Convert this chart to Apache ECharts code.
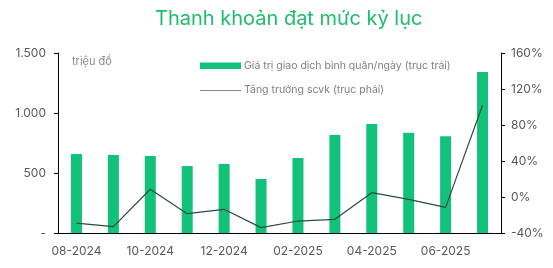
<!DOCTYPE html>
<html><head><meta charset="utf-8">
<script src="https://cdn.jsdelivr.net/npm/echarts@6/dist/echarts.min.js"></script>
<style>html,body{margin:0;padding:0;background:#fff}#c{width:553px;height:268px}</style>
</head><body><div id="c"></div>
<script>
const categories = ['08-2024','09-2024','10-2024','11-2024','12-2024','01-2025','02-2025','03-2025','04-2025','05-2025','06-2025','07-2025'];
const tradingValue = [658, 650, 642, 558, 575, 450, 625, 817, 908, 836, 806, 1342];
const accountGrowth = [-29, -33, 8.6, -18.5, -13.7, -34, -26.7, -24.8, 4.8, -2.6, -11.5, 102];
const leftTicks = [0, 500, 1000, 1500];
const rightTicks = [-40, 0, 40, 80, 120, 160];
const barName = 'Giá trị giao dịch bình quân/ngày (trục trái)';
const lineName = 'Tăng trưởng scvk (trục phải)';

const font = 'Inter, "Noto Sans", sans-serif';
const chart = echarts.init(document.getElementById('c'));
chart.setOption({
  animation: false,
  textStyle: {fontFamily: font},
  title: {
    text: 'Thanh khoản đạt mức kỷ lục',
    left: 150, top: 4,
    textStyle: {color: '#1dbd6e', fontSize: 20, fontWeight: 'normal', fontFamily: font}
  },
  graphic: [
    {type: 'text', left: 72, top: 56,
     style: {text: 'triệu đồ', fill: '#8c8c8c', fontSize: 11, fontFamily: font}},
    {type: 'rect', shape: {x: 200, y: 62.5, width: 41, height: 6.5}, style: {fill: '#13c27a'}},
    {type: 'text', x: 244, y: 66, style: {text: barName, fill: '#808080', fontSize: 10.5, fontFamily: font, verticalAlign: 'middle'}},
    {type: 'line', shape: {x1: 200, y1: 90.5, x2: 241, y2: 90.5}, style: {stroke: '#7f8c8d', lineWidth: 1.2}},
    {type: 'text', x: 244, y: 90, style: {text: lineName, fill: '#808080', fontSize: 10.5, fontFamily: font, verticalAlign: 'middle'}}
  ],
  grid: {left: 58, right: 52, top: 53, bottom: 35},
  xAxis: {
    type: 'category', data: categories,
    axisLine: {lineStyle: {color: '#000', width: 1}},
    axisTick: {show: false},
    axisLabel: {interval: 1, color: '#595959', fontSize: 12, margin: 12, fontFamily: font}
  },
  yAxis: [{
    type: 'value', min: leftTicks[0], max: leftTicks[leftTicks.length-1], interval: 500,
    axisLine: {show: true, lineStyle: {color: '#000'}},
    axisTick: {show: true, length: 4, lineStyle: {color: '#000'}},
    splitLine: {show: false},
    axisLabel: {color: '#595959', fontSize: 12, margin: 12, fontFamily: font,
      formatter: v => v === 0 ? '-' : v.toString().replace(/\B(?=(\d{3})+(?!\d))/g, '.')}
  }, {
    type: 'value', min: rightTicks[0], max: rightTicks[rightTicks.length-1], interval: 40,
    position: 'right',
    axisLine: {show: true, lineStyle: {color: '#000'}},
    axisTick: {show: true, length: 4, lineStyle: {color: '#000'}},
    splitLine: {show: false},
    axisLabel: {color: '#595959', fontSize: 12, margin: 10, fontFamily: font, formatter: v => v + '%'}
  }],
  series: [{
    name: barName, type: 'bar', data: tradingValue, barWidth: 11,
    itemStyle: {color: '#13c27a'}
  }, {
    name: lineName, type: 'line', yAxisIndex: 1, data: accountGrowth,
    symbol: 'none', lineStyle: {color: '#2d4a40', width: 1.2}
  }]
});
</script></body></html>
